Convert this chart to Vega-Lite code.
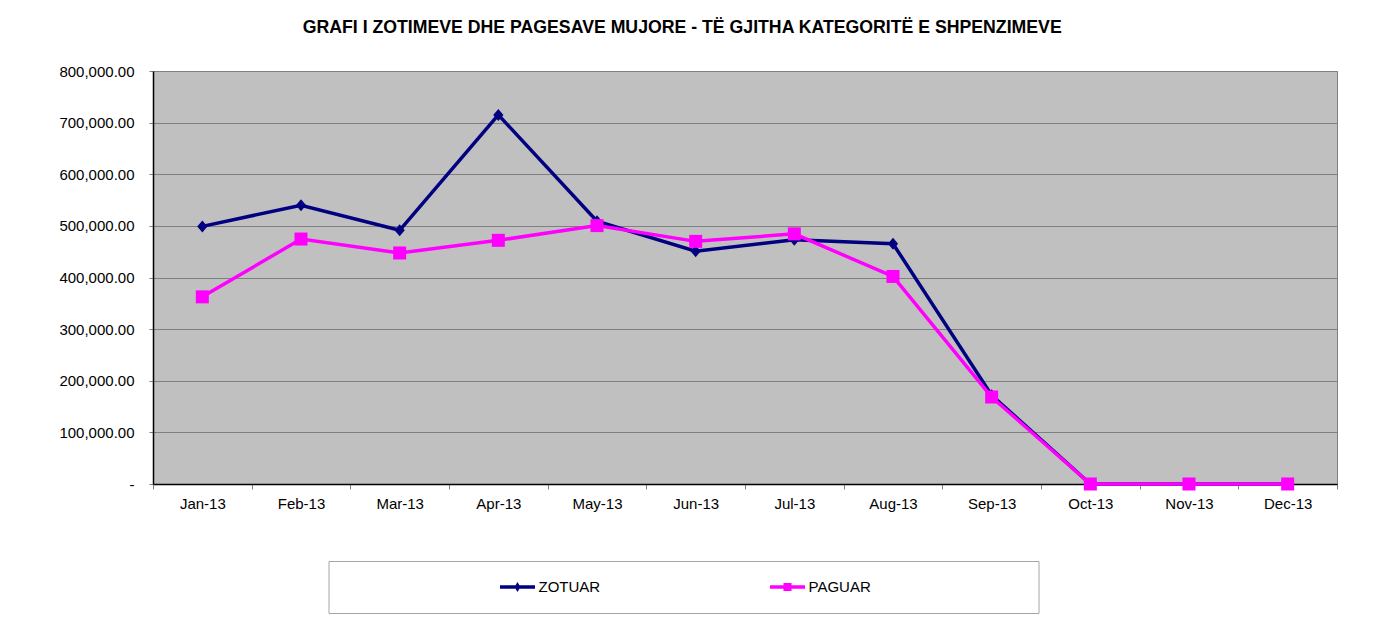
{
  "$schema": "https://vega.github.io/schema/vega-lite/v6.json",
  "padding": {"left": 58, "top": 18, "right": 10, "bottom": 10},
  "background": "white",
  "title": {
    "text": "GRAFI I ZOTIMEVE DHE PAGESAVE MUJORE - TË GJITHA KATEGORITË E SHPENZIMEVE",
    "anchor": "middle",
    "font": "Liberation Sans",
    "fontSize": 17.7,
    "fontWeight": "bold",
    "color": "black",
    "offset": 27,
    "dx": -16
  },
  "datasets": {
    "monthly": [
      {"month": "Jan-13", "series": "ZOTUAR", "value": 499000},
      {"month": "Feb-13", "series": "ZOTUAR", "value": 540000},
      {"month": "Mar-13", "series": "ZOTUAR", "value": 491500},
      {"month": "Apr-13", "series": "ZOTUAR", "value": 715000},
      {"month": "May-13", "series": "ZOTUAR", "value": 509000},
      {"month": "Jun-13", "series": "ZOTUAR", "value": 451000},
      {"month": "Jul-13", "series": "ZOTUAR", "value": 473000},
      {"month": "Aug-13", "series": "ZOTUAR", "value": 465500},
      {"month": "Sep-13", "series": "ZOTUAR", "value": 172000},
      {"month": "Oct-13", "series": "ZOTUAR", "value": 0},
      {"month": "Nov-13", "series": "ZOTUAR", "value": 0},
      {"month": "Dec-13", "series": "ZOTUAR", "value": 0},
      {"month": "Jan-13", "series": "PAGUAR", "value": 362500},
      {"month": "Feb-13", "series": "PAGUAR", "value": 474500},
      {"month": "Mar-13", "series": "PAGUAR", "value": 447500},
      {"month": "Apr-13", "series": "PAGUAR", "value": 472000},
      {"month": "May-13", "series": "PAGUAR", "value": 500500},
      {"month": "Jun-13", "series": "PAGUAR", "value": 470000},
      {"month": "Jul-13", "series": "PAGUAR", "value": 484500},
      {"month": "Aug-13", "series": "PAGUAR", "value": 402000},
      {"month": "Sep-13", "series": "PAGUAR", "value": 168500},
      {"month": "Oct-13", "series": "PAGUAR", "value": 0},
      {"month": "Nov-13", "series": "PAGUAR", "value": 0},
      {"month": "Dec-13", "series": "PAGUAR", "value": 0}
    ]
  },
  "spacing": 48,
  "center": true,
  "align": "all",
  "vconcat": [
    {
      "width": 1184,
      "height": 413,
      "view": {"fill": "#C0C0C0", "stroke": "#808080"},
      "data": {"name": "monthly"},
      "encoding": {
        "x": {
          "field": "month",
          "type": "ordinal",
          "sort": ["Jan-13", "Feb-13", "Mar-13", "Apr-13", "May-13", "Jun-13", "Jul-13", "Aug-13", "Sep-13", "Oct-13", "Nov-13", "Dec-13"],
          "scale": {"type": "band", "paddingInner": 0, "paddingOuter": 0},
          "bandPosition": 0.5,
          "axis": {
            "title": null,
            "labelAngle": 0,
            "tickBand": "extent",
            "tickColor": "#808080",
            "tickSize": 5,
            "domainColor": "black",
            "domainWidth": 1.5,
            "labelFont": "Liberation Sans",
            "labelFontSize": 15,
            "labelColor": "black",
            "labelPadding": 7,
            "grid": false
          }
        },
        "y": {
          "field": "value",
          "type": "quantitative",
          "scale": {"domain": [0, 800000]},
          "axis": {
            "title": null,
            "values": [0, 100000, 200000, 300000, 400000, 500000, 600000, 700000, 800000],
            "labelExpr": "datum.value === 0 ? '-\u00a0\u00a0' : format(datum.value, ',.2f')",
            "grid": true,
            "gridColor": "#808080",
            "gridWidth": 1,
            "gridOpacity": 1,
            "tickColor": "#808080",
            "tickSize": 4,
            "labelPadding": 15,
            "domainColor": "black",
            "domainWidth": 1.5,
            "labelFont": "Liberation Sans",
            "labelFontSize": 15,
            "labelColor": "black"
          }
        },
        "color": {
          "field": "series",
          "type": "nominal",
          "scale": {"domain": ["ZOTUAR", "PAGUAR"], "range": ["#000080", "#FF00FF"]},
          "legend": null
        }
      },
      "layer": [
        {"transform": [{"filter": "datum.series === 'ZOTUAR'"}], "mark": {"type": "line", "strokeWidth": 3.5}},
        {"transform": [{"filter": "datum.series === 'ZOTUAR'"}], "mark": {"type": "point", "shape": "M0,-1L0.85,0L0,1L-0.85,0Z", "size": 144, "filled": true, "opacity": 1}},
        {"transform": [{"filter": "datum.series === 'PAGUAR'"}], "mark": {"type": "line", "strokeWidth": 3.5}},
        {"transform": [{"filter": "datum.series === 'PAGUAR'"}], "mark": {"type": "point", "shape": "square", "size": 169, "filled": true, "opacity": 1}}
      ]
    },
    {
      "width": 710,
      "height": 52,
      "view": {"fill": "white", "stroke": "#A6A6A6"},
      "data": {"name": "monthly"},
      "transform": [{"aggregate": [{"op": "count", "as": "n"}], "groupby": ["series"]}],
      "encoding": {
        "x": {
          "field": "series",
          "type": "nominal",
          "scale": {"type": "point", "padding": 0, "domain": ["ZOTUAR", "PAGUAR"], "range": [189, 459]},
          "axis": null
        }
      },
      "layer": [
        {
          "mark": {"type": "point", "filled": true, "opacity": 1, "size": 1225, "strokeWidth": 0},
          "encoding": {
            "color": {
              "field": "series",
              "type": "nominal",
              "scale": {"domain": ["ZOTUAR", "PAGUAR"], "range": ["#000080", "#FF00FF"]},
              "legend": null
            },
            "shape": {
              "field": "series",
              "type": "nominal",
              "scale": {"domain": ["ZOTUAR", "PAGUAR"], "range": ["M-1,-0.1H1V0.1H-1Z M0,-0.29L0.17,0L0,0.29L-0.17,0Z", "M-1,-0.1H1V0.1H-1Z M-0.23,-0.23H0.23V0.23H-0.23Z M21.4,0"]},
              "legend": null
            }
          }
        },
        {
          "mark": {"type": "text", "align": "left", "baseline": "middle", "dx": 21, "font": "Liberation Sans", "fontSize": 15, "color": "black"},
          "encoding": {"text": {"field": "series", "type": "nominal"}}
        }
      ]
    }
  ]
}
